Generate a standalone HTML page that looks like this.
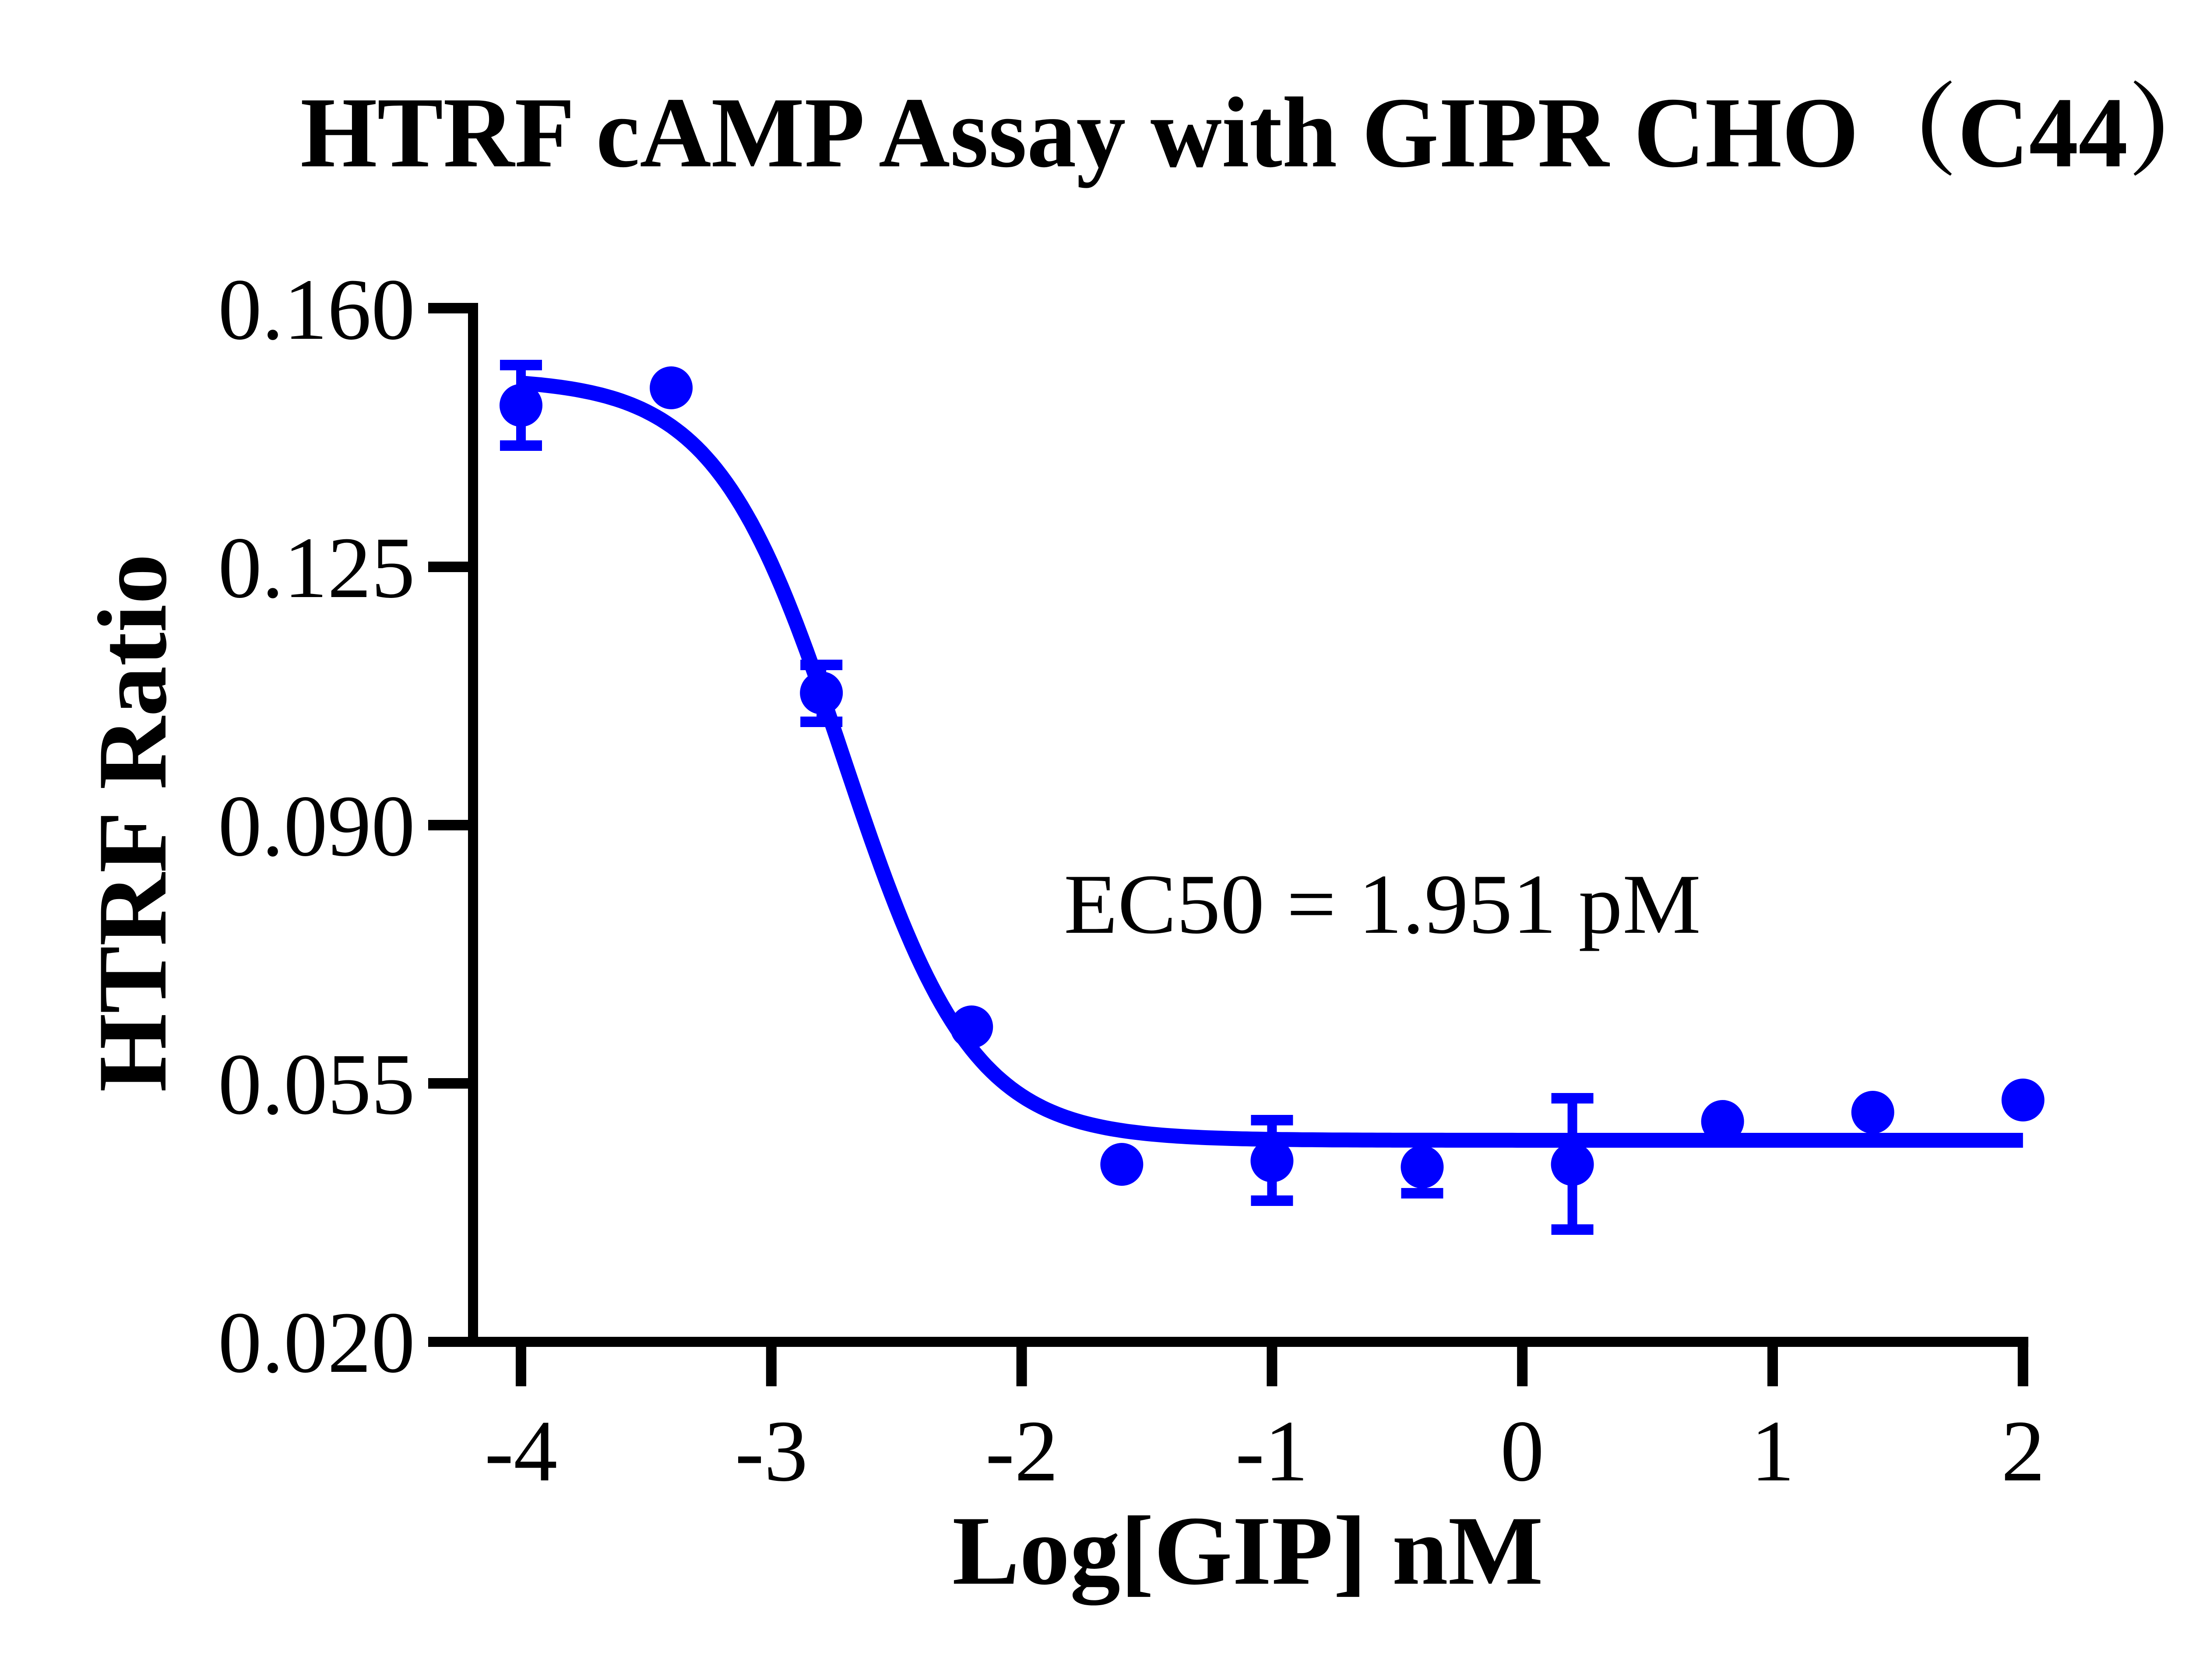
<!DOCTYPE html>
<html><head><meta charset="utf-8"><style>
html,body{margin:0;padding:0;background:#fff;}
svg{display:block;}
text{font-family:"Liberation Serif","Noto Serif CJK SC",serif;}
</style></head><body>
<svg id="s" width="5192" height="3838" viewBox="0 0 5192 3838" xmlns="http://www.w3.org/2000/svg">
<rect width="5192" height="3838" fill="#fff"/>
<text x="686" y="380" font-size="230" font-weight="bold" textLength="4400" lengthAdjust="spacingAndGlyphs">HTRF cAMP Assay with GIPR CHO（C44）</text>
<g fill="#000">
<rect x="1069" y="692" width="23" height="2385"/>
<rect x="1069" y="3054" width="3564" height="23"/>
<rect x="978" y="692" width="100" height="24"/>
<rect x="978" y="1283" width="100" height="24"/>
<rect x="978" y="1873" width="100" height="24"/>
<rect x="978" y="2463" width="100" height="24"/>
<rect x="978" y="3054" width="100" height="23"/>
</g>
<g id="xt" fill="#000"></g>
<g font-size="200" text-anchor="end">
<text x="948" y="774">0.160</text>
<text x="948" y="1364">0.125</text>
<text x="948" y="1954">0.090</text>
<text x="948" y="2544">0.055</text>
<text x="948" y="3134">0.020</text>
</g>
<g font-size="200" text-anchor="middle">
<text x="1190" y="3382">-4</text>
<text x="1762" y="3382">-3</text>
<text x="2334" y="3382">-2</text>
<text x="2905" y="3382">-1</text>
<text x="3477" y="3382">0</text>
<text x="4049" y="3382">1</text>
<text x="4621" y="3382">2</text>
</g>
<text x="2175" y="3618" font-size="225" font-weight="bold" textLength="1350" lengthAdjust="spacingAndGlyphs">Log[GIP] nM</text>
<text transform="translate(378,2495) rotate(-90)" font-size="225" font-weight="bold" textLength="1230" lengthAdjust="spacingAndGlyphs">HTRF Ratio</text>
<text x="2430" y="2131" font-size="195" textLength="1455" lengthAdjust="spacingAndGlyphs">EC50 = 1.951 pM</text>
<path id="curve" fill="none" stroke="#0000ff" stroke-width="34"/>
<g id="pts" fill="#0000ff"></g>
</svg>
<script>
var ns="http://www.w3.org/2000/svg";
function X(v){return 1190+571.8*(v+4);}
var xt=document.getElementById('xt');
for(var k=-4;k<=2;k++){var r=document.createElementNS(ns,'rect');r.setAttribute('x',X(k)-12);r.setAttribute('y',3060);r.setAttribute('width',24);r.setAttribute('height',107);xt.appendChild(r);}
var d="";
for(var i=0;i<=300;i++){var v=-4+6*i/300;var y=2605-(2605-864)/(1+Math.pow(10,(v+2.71)*1.7));d+=(i?"L":"M")+X(v).toFixed(1)+","+y.toFixed(1);}
document.getElementById('curve').setAttribute('d',d);
var P=[[-4,926,834,1018],[-3.4,886],[-2.8,1583,1519,1649],[-2.2,2346],[-1.6,2660],[-1,2652,2559,2743],[-0.4,2666,null,2726],[0.2,2660,2509,2809],[0.8,2562],[1.4,2541],[2,2513]];
var g=document.getElementById('pts');
function rect(x,y,w,h){var r=document.createElementNS(ns,'rect');r.setAttribute('x',x);r.setAttribute('y',y);r.setAttribute('width',w);r.setAttribute('height',h);g.appendChild(r);}
P.forEach(function(p){var x=X(p[0]);
var c=document.createElementNS(ns,'circle');c.setAttribute('cx',x);c.setAttribute('cy',p[1]);c.setAttribute('r',49);g.appendChild(c);
if(p[2]!=null){rect(x-11,p[2],22,p[1]-p[2]);rect(x-48,p[2]-12,96,24);}
if(p[3]!=null){rect(x-11,p[1],22,p[3]-p[1]);rect(x-48,p[3]-12,96,24);}
});
</script>
</body></html>
